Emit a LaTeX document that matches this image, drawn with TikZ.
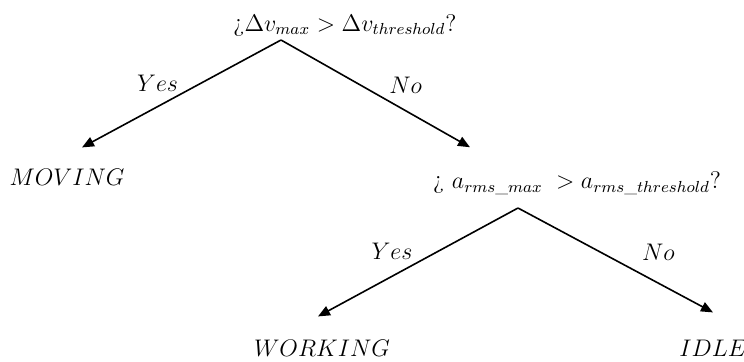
\documentclass[tikz,border=0pt]{standalone}
\usepackage{amsmath}
\usetikzlibrary{arrows.meta,positioning}
\begin{document}
\begin{tikzpicture}[x=0.5pt,y=-0.5pt,
  question/.style={inner sep=0pt,font=\large},
  outcome/.style={inner sep=0pt,font=\large},
  answer/.style={inner sep=0pt,font=\large},
  branch/.style={-{Triangle[length=6pt,width=5pt]},line width=0.8pt}
]
  \useasboundingbox (0,0) rectangle (744,361);
  % decisions
  \node[question] (qspeed) at (345,25) {¿$\Delta v_{max} > \Delta v_{threshold}$?};
  \node[question] (qaccel) at (577,183) {¿ $a_{rms\_max}\; > a_{rms\_threshold}$?};
  % states
  \node[outcome] (moving) at (67,177) {$MOVING$};
  \node[outcome] (working) at (322,348) {$WORKING$};
  \node[outcome] (idle) at (713,348) {$IDLE$};
  \coordinate (speedfork) at (281,40);
  \coordinate (accelfork) at (518,208);
  % branches
  \draw[branch] (speedfork) -- node[answer,pos=0.62,above=7pt] {$Yes$}
    ([xshift=7.5pt,yshift=10.5pt]moving.north);
  \draw[branch] (speedfork) -- node[answer,pos=0.66,above=8pt] {$No$}
    ([xshift=-53.5pt,yshift=12pt]qaccel.north);
  \draw[branch] (accelfork) -- node[answer,pos=0.63,above=8pt] {$Yes$}
    ([xshift=-2pt,yshift=11.5pt]working.north);
  \draw[branch] (accelfork) -- node[answer,pos=0.72,above=11pt] {$No$}
    ([yshift=13.5pt]idle.north);
\end{tikzpicture}
\end{document}
